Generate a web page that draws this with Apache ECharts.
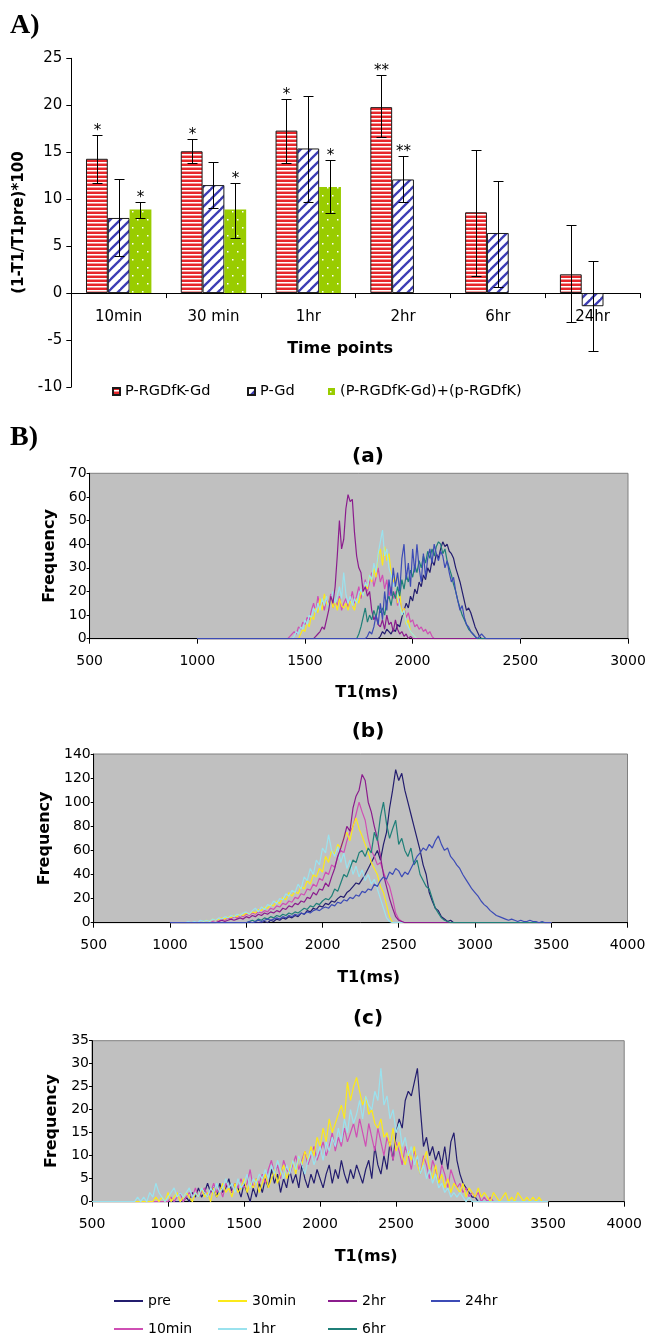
<!DOCTYPE html>
<html><head><meta charset="utf-8">
<script src="https://cdn.jsdelivr.net/npm/echarts@6/dist/echarts.min.js"></script>
<style>html,body{margin:0;padding:0;background:#fff}#c{width:647px;height:1339px}</style>
</head><body><div id="c"></div><script>
// ---------- Panel A data ----------
const cats = ['10min', '30 min', '1hr', '2hr', '6hr', '24hr'];
const yTicksA = [-10, 25, 5];
const redVals = [14.3, 15.1, 17.3, 19.8, 8.6, 2.0];
const redLow = [11.7, 13.9, 13.9, 16.6, 1.8, -3.1];
const redHigh = [16.8, 16.4, 20.7, 23.2, 15.2, 7.3];
const blueVals = [8.0, 11.5, 15.4, 12.1, 6.4, -1.4];
const blueLow = [3.9, 9.1, 9.7, 9.7, 0.6, -6.2];
const blueHigh = [12.1, 14.0, 21.0, 14.6, 11.9, 3.4];
const greenVals = [8.9, 8.9, 11.3, null, null, null];
const greenLow = [8.0, 5.9, 8.5, null, null, null];
const greenHigh = [9.7, 11.7, 14.2, null, null, null];
const redStars = ['*', '*', '*', '**', '', ''];
const blueStars = ['', '', '', '**', '', ''];
const greenStars = ['*', '*', '*', '', '', ''];
const barNames = ['P-RGDfK-Gd', 'P-Gd', '(P-RGDfK-Gd)+(p-RGDfK)'];

// ---------- Panel B data (T1 histograms) ----------
const lineNames = ['pre', '10min', '30min', '1hr', '2hr', '6hr', '24hr'];
// panel (a): bin 10 ms, lines span 1000-2500
const binA = 10, rangeA = [1000, 2500];
const preA_start = 1840;
const preA = [0,1,3,2,4,3,2,4,3,6,5,9,12,15,13,18,16,21,19,24,22,27,25,30,28,33,31,36,34,38,41,39,40,37,36,34,30,27,24,20,16,12,13,11,8,5,3,1,0];
const m10A_start = 1420;
const m10A = [0,1,2,3,2,5,4,7,6,9,8,12,15,11,18,14,16,12,17,15,19,13,16,14,18,12,15,17,13,16,20,15,18,22,17,21,25,20,24,28,22,26,30,24,27,21,25,18,22,17,20,14,17,11,13,9,11,7,8,5,6,4,5,3,4,2,3,1,0];
const m30A_start = 1470;
const m30A = [0,2,4,3,7,5,10,8,13,11,17,12,19,15,14,18,13,16,12,17,14,13,15,12,16,14,12,17,15,20,18,23,21,27,24,30,26,35,38,31,39,33,36,28,24,26,15,20,10,13,6,8,3,2,1,0];
const h1A_start = 1440;
const h1A = [0,1,3,2,5,4,8,6,10,9,13,11,15,12,17,14,18,13,16,20,15,18,22,17,28,19,15,18,14,17,15,19,21,18,24,22,27,25,32,28,36,41,46,35,38,30,27,22,24,18,14,10,12,7,5,3,2,1,0];
const h2A_start = 1540;
const h2A = [0,1,2,3,5,4,8,12,18,15,22,35,50,38,42,55,61,58,59,45,35,30,28,20,22,18,20,12,8,10,6,5,8,4,10,6,7,3,8,4,2,3,1,2,0,1,0];
const h6A_start = 1740;
const h6A = [0,2,5,9,13,7,10,8,12,9,14,11,13,10,16,18,14,20,17,22,18,25,21,27,24,29,26,31,28,33,30,35,32,37,34,38,35,39,41,40,36,38,33,30,27,23,20,16,13,10,8,6,4,3,2,1,0];
const h24A_start = 1780;
const h24A = [0,1,3,2,5,10,6,15,8,20,12,25,18,30,22,28,20,34,40,25,32,22,38,28,40,30,24,36,26,34,38,32,40,36,33,37,35,30,33,28,24,26,20,16,12,14,9,6,5,3,2,1,0,1,2,1,0];

// panel (b): bin 20 ms, lines span 1000-3500
const binB = 20, rangeB = [1000, 3500];
const preB_start = 1600;
const preB = [0,1,0,2,1,3,2,4,3,5,4,6,5,8,7,10,9,12,11,14,13,16,15,18,17,20,22,21,25,27,30,33,32,36,40,45,50,55,60,52,65,75,95,110,127,118,124,110,100,90,80,70,60,48,40,25,18,12,10,5,3,1,2,0];
const m10B_start = 1260;
const m10B = [0,1,2,1,3,2,4,3,5,4,6,5,7,6,8,7,9,8,10,9,12,11,14,13,16,15,18,17,21,20,24,23,28,27,32,30,37,35,42,40,48,46,55,60,58,68,75,80,90,100,92,85,70,60,55,48,50,42,35,30,20,8,3,1,0];
const m30B_start = 1200;
const m30B = [0,1,2,1,3,2,3,4,3,5,4,6,5,7,6,8,7,9,8,11,10,13,12,15,14,18,16,21,19,25,22,26,24,30,28,35,32,40,38,45,42,55,50,60,57,65,62,70,75,68,80,87,78,72,65,58,50,45,40,30,25,15,5,0];
const h1B_start = 1100;
const h1B = [0,1,0,1,0,2,1,2,1,3,2,4,3,5,4,6,5,7,6,8,9,7,10,12,9,13,11,15,14,18,16,20,19,24,22,27,25,32,28,38,35,45,40,52,48,62,58,73,60,55,63,50,58,45,52,40,47,38,44,35,40,32,36,28,20,12,4,1,0];
const h2B_start = 1300;
const h2B = [0,1,2,1,2,3,2,3,4,3,5,4,6,5,7,6,8,7,9,8,10,9,12,11,14,13,16,15,18,17,21,20,25,23,28,27,33,30,38,45,55,62,70,80,76,95,105,110,123,118,100,92,80,70,55,40,30,20,12,5,2,1,0];
const h6B_start = 1500;
const h6B = [0,1,2,1,3,2,4,3,5,4,6,5,7,6,8,7,9,8,10,12,11,14,13,16,15,18,20,19,22,28,26,33,40,38,45,52,50,58,60,55,62,58,75,68,88,100,82,70,78,85,65,70,60,55,62,48,52,40,35,30,28,20,12,8,4,2,1,0];
const h24B_start = 1500;
const h24B = [0,1,0,1,2,1,2,3,2,3,4,3,5,4,6,5,7,6,8,7,9,8,10,11,10,12,13,12,15,14,17,16,19,18,21,20,23,22,26,25,28,27,32,30,35,38,36,42,40,45,43,38,42,40,45,50,55,58,62,60,65,62,68,72,65,60,62,55,52,48,45,40,36,32,28,25,22,18,15,13,10,8,6,5,4,3,2,3,2,1,2,1,1,2,1,1,0,1,0];

// panel (c): bin 20 ms, lines span 500-3500
const binC = 20, rangeC = [500, 3500];
const preC_start = 1100;
const preC = [0,1,0,2,1,3,1,2,4,2,3,1,4,2,3,5,2,4,3,1,4,2,0,3,1,4,2,5,3,7,4,6,2,5,3,7,4,6,3,8,5,3,6,4,7,5,3,6,8,4,7,5,9,6,4,7,5,8,6,4,7,9,5,12,8,6,10,7,13,9,15,18,16,22,24,23,26,29,20,12,14,10,12,9,11,8,12,7,13,15,9,6,4,3,2,1,1,0];
const m10C_start = 1000;
const m10C = [0,1,0,1,2,0,1,2,1,3,1,2,3,1,2,4,2,3,1,4,3,2,4,3,5,3,4,7,3,5,4,6,4,7,9,6,8,5,9,7,6,8,10,7,9,11,8,10,12,9,11,13,10,12,15,11,14,12,16,13,15,17,14,18,15,12,17,14,11,16,13,10,14,12,9,13,11,8,12,10,7,11,9,6,10,8,5,9,7,4,8,6,3,7,5,3,4,2,3,1,2,1,2,0,1,0,1,0,0];
const m30C_start = 900;
const m30C = [0,1,0,1,0,2,0,1,2,0,1,2,1,0,2,1,3,1,2,0,3,1,2,4,2,3,1,4,2,3,5,2,4,3,5,2,4,6,3,5,7,4,6,8,5,7,9,6,10,8,11,9,12,10,14,12,16,13,18,15,17,19,21,18,26,22,25,27,24,21,23,19,20,17,16,18,14,15,12,16,11,13,10,8,11,9,12,8,6,9,11,7,5,8,4,6,3,5,2,4,3,2,4,1,3,2,1,3,1,2,1,0,2,1,0,1,2,0,1,0,2,1,0,1,0,1,0,1,0,0];
const h1C_start = 780;
const h1C = [0,1,0,1,0,2,1,4,2,1,0,1,2,3,1,2,1,2,3,1,2,1,3,2,1,3,2,4,2,3,5,3,4,2,5,3,4,6,3,5,4,6,5,7,5,8,6,9,7,5,8,6,9,7,10,8,6,9,11,8,10,12,9,13,11,14,12,16,13,18,15,20,17,19,22,18,23,21,20,24,22,29,21,23,18,20,15,17,12,14,10,12,8,10,6,8,5,7,4,6,3,4,2,3,1,2,1,2,1,0,1,0];

const lineColors = ['#231d6e', '#cf4fb4', '#fbe91a', '#9ae2ee', '#8b1c8d', '#1f7f78', '#3c4bb6'];

// ---------- styles ----------
function pat(w, h, draw) {
  const c = document.createElement('canvas');
  c.width = w; c.height = h;
  draw(c.getContext('2d'));
  return { image: c, repeat: 'repeat' };
}
const redPat = pat(4, 4, g => {
  g.fillStyle = '#e8262b'; g.fillRect(0, 0, 4, 4);
  g.fillStyle = '#ffffff'; g.fillRect(0, 2, 4, 1);
  g.fillStyle = '#f49a9a'; g.fillRect(0, 3, 4, 1);
});
const bluePat = pat(10, 10, g => {
  g.fillStyle = '#ffffff'; g.fillRect(0, 0, 10, 10);
  g.strokeStyle = '#3c3cb4'; g.lineWidth = 2.3;
  [0, 10, 20].forEach(k => { g.beginPath(); g.moveTo(k + 2, -2); g.lineTo(-2, k + 2); g.stroke(); });
});
const greenPat = pat(10, 16, g => {
  g.fillStyle = '#99cc00'; g.fillRect(0, 0, 10, 16);
  g.fillStyle = '#ffffff'; g.fillRect(2, 3, 1.5, 1.5); g.fillRect(7, 11, 1.5, 1.5);
});

const FONT = 'DejaVu Sans';
const txt = { color: '#000', fontFamily: FONT };
const plain = v => String(v);

// ---------- error bars ----------
const errRows = [], errStars = [];
[[redVals, redLow, redHigh, redStars], [blueVals, blueLow, blueHigh, blueStars], [greenVals, greenLow, greenHigh, greenStars]].forEach((arr, s) => {
  arr[0].forEach((v, i) => {
    if (v === null) return;
    errRows.push([i, arr[1][i], arr[2][i], s]);
    errStars.push(arr[3][i]);
  });
});
function renderErr(params, api) {
  const i = api.value(0), s = api.value(3);
  const c0 = api.coord([i, 0]);
  const band = api.size([1, 0])[0];
  const bw = band * 0.69 / 3;
  const x = Math.round(c0[0] + (s - 1) * bw) + 0.5;
  const yl = Math.round(api.coord([i, api.value(1)])[1]) + 0.5;
  const yh = Math.round(api.coord([i, api.value(2)])[1]) + 0.5;
  const hw = 5;
  const st = { stroke: '#000', lineWidth: 1 };
  const ch = [
    { type: 'line', shape: { x1: x, y1: yl, x2: x, y2: yh }, style: st },
    { type: 'line', shape: { x1: x - hw, y1: yh, x2: x + hw, y2: yh }, style: st },
    { type: 'line', shape: { x1: x - hw, y1: yl, x2: x + hw, y2: yl }, style: st }
  ];
  const star = errStars[params.dataIndex];
  if (star) ch.push({ type: 'text', style: { text: star, x: x, y: yh - 12, align: 'center', verticalAlign: 'top', fill: '#000', font: '15px "DejaVu Sans"' } });
  return { type: 'group', children: ch };
}

// ---------- histogram builder ----------
function hist(start, step, vals, range) {
  const pts = [[range[0], 0]];
  vals.forEach((v, i) => pts.push([start + i * step, v]));
  pts.push([range[1], 0]);
  return pts;
}
const panels = [
  { bin: binA, range: rangeA, s: [[preA_start, preA], [m10A_start, m10A], [m30A_start, m30A], [h1A_start, h1A], [h2A_start, h2A], [h6A_start, h6A], [h24A_start, h24A]] },
  { bin: binB, range: rangeB, s: [[preB_start, preB], [m10B_start, m10B], [m30B_start, m30B], [h1B_start, h1B], [h2B_start, h2B], [h6B_start, h6B], [h24B_start, h24B]] },
  { bin: binC, range: rangeC, s: [[preC_start, preC], [m10C_start, m10C], [m30C_start, m30C], [h1C_start, h1C]] }
];
const histAxes = [
  { xmax: 3000, ymax: 70, yint: 10 },
  { xmax: 4000, ymax: 140, yint: 20 },
  { xmax: 4000, ymax: 35, yint: 5 }
];

const gridA = { left: 71.3, top: 58.3, width: 568.7, height: 328.7, outerBoundsMode: 'none' };
const grids = [
  gridA,
  { left: 89.6, top: 473.3, width: 538.4, height: 165.4, show: true, backgroundColor: '#c0c0c0', borderColor: '#808080', borderWidth: 1, outerBoundsMode: 'none' },
  { left: 93.7, top: 754, width: 533.8, height: 168.7, show: true, backgroundColor: '#c0c0c0', borderColor: '#808080', borderWidth: 1, outerBoundsMode: 'none' },
  { left: 92, top: 1040.7, width: 532.2, height: 161, show: true, backgroundColor: '#c0c0c0', borderColor: '#808080', borderWidth: 1, outerBoundsMode: 'none' }
];
const axLine = { show: true, lineStyle: { color: '#000', width: 1 } };
// x axis of panel A sits at value 0: offset from grid bottom
const zeroOffsetA = -gridA.height * (0 - yTicksA[0]) / (yTicksA[1] - yTicksA[0]);

const xAxes = [{
  type: 'category', data: cats, gridIndex: 0, offset: zeroOffsetA,
  axisLine: { ...axLine, onZero: false },
  axisTick: { show: true, length: 5, interval: 0, lineStyle: { color: '#000' } },
  axisLabel: { ...txt, fontSize: 15, margin: 17, interval: 0 },
  name: 'Time points', nameLocation: 'middle', nameGap: 48,
  nameTextStyle: { ...txt, fontSize: 16, fontWeight: 'bold', padding: [0, 31, 0, 0] }
}];
const yAxes = [{
  type: 'value', gridIndex: 0, min: yTicksA[0], max: yTicksA[1], interval: yTicksA[2],
  axisLine: axLine, axisTick: { show: true, length: 5, lineStyle: { color: '#000' } },
  axisLabel: { ...txt, fontSize: 15, margin: 9, formatter: plain }, splitLine: { show: false },
  name: '(1-T1/T1pre)*100', nameLocation: 'middle', nameGap: 42,
  nameTextStyle: { ...txt, fontSize: 15, fontWeight: 'bold' }
}];
const xGaps = [46, 47, 47];
histAxes.forEach((h, k) => {
  xAxes.push({
    type: 'value', gridIndex: k + 1, min: 500, max: h.xmax, interval: 500,
    axisLine: { ...axLine, onZero: false }, axisTick: { show: true, length: 5, lineStyle: { color: '#000' } },
    axisLabel: { ...txt, fontSize: 14, margin: 16, formatter: plain }, splitLine: { show: false },
    name: 'T1(ms)', nameLocation: 'middle', nameGap: xGaps[k],
    nameTextStyle: { ...txt, fontSize: 16, fontWeight: 'bold', padding: [0, 0, 0, 16] }
  });
  yAxes.push({
    type: 'value', gridIndex: k + 1, min: 0, max: h.ymax, interval: h.yint,
    axisLine: axLine, axisTick: { show: true, length: 3, lineStyle: { color: '#000' } },
    axisLabel: { ...txt, fontSize: 14, margin: 3, formatter: plain }, splitLine: { show: false },
    name: 'Frequency', nameLocation: 'middle', nameGap: 29,
    nameTextStyle: { ...txt, fontSize: 16, fontWeight: 'bold' }
  });
});

const series = [
  { type: 'bar', name: barNames[0], xAxisIndex: 0, yAxisIndex: 0, data: redVals, barGap: '0%', barCategoryGap: '31%', itemStyle: { color: redPat, borderColor: '#1a1a1a', borderWidth: 1 } },
  { type: 'bar', name: barNames[1], xAxisIndex: 0, yAxisIndex: 0, data: blueVals, barGap: '0%', barCategoryGap: '31%', itemStyle: { color: bluePat, borderColor: '#1a1a1a', borderWidth: 1 } },
  { type: 'bar', name: barNames[2], xAxisIndex: 0, yAxisIndex: 0, data: greenVals, barGap: '0%', barCategoryGap: '31%', itemStyle: { color: greenPat } },
  { type: 'custom', name: 'err', xAxisIndex: 0, yAxisIndex: 0, data: errRows, renderItem: renderErr, encode: { x: 0, y: [1, 2] }, z: 5 }
];
panels.forEach((p, k) => {
  p.s.forEach((sd, j) => {
    series.push({
      type: 'line', name: lineNames[j], xAxisIndex: k + 1, yAxisIndex: k + 1,
      data: hist(sd[0], p.bin, sd[1], p.range), symbol: 'none', showSymbol: false,
      lineStyle: { color: lineColors[j], width: 1.2 }, itemStyle: { color: lineColors[j] }
    });
  });
});

// legends
const legends = [];
const barLegPos = [112, 247, 328];
barNames.forEach((n, i) => legends.push({
  data: [n], left: barLegPos[i], top: 384, padding: 0, itemWidth: 7, itemHeight: 7, icon: 'rect',
  selectedMode: false, textStyle: { ...txt, fontSize: 14.5 }
}));
const lineLegPos = { pre: [114, 1294], '30min': [218, 1294], '2hr': [328, 1294], '24hr': [431, 1294], '10min': [114, 1322], '1hr': [218, 1322], '6hr': [328, 1322] };
lineNames.forEach((n, j) => legends.push({
  data: [{ name: n, icon: 'rect', itemStyle: { color: lineColors[j], borderWidth: 0 } }],
  left: lineLegPos[n][0], top: lineLegPos[n][1], padding: 0, itemWidth: 29, itemHeight: 2,
  selectedMode: false, textStyle: { ...txt, fontSize: 14 }
}));

const titles = [
  { text: 'A)', left: 10, top: 12, padding: 0, textStyle: { fontFamily: 'Liberation Serif', fontWeight: 'bold', fontSize: 28, color: '#000' } },
  { text: 'B)', left: 10, top: 424, padding: 0, textStyle: { fontFamily: 'Liberation Serif', fontWeight: 'bold', fontSize: 28, color: '#000' } },
  { text: '(a)', left: 368, textAlign: 'center', top: 447, padding: 0, textStyle: { ...txt, fontWeight: 'bold', fontSize: 20 } },
  { text: '(b)', left: 368, textAlign: 'center', top: 722, padding: 0, textStyle: { ...txt, fontWeight: 'bold', fontSize: 20 } },
  { text: '(c)', left: 368, textAlign: 'center', top: 1009, padding: 0, textStyle: { ...txt, fontWeight: 'bold', fontSize: 20 } }
];

const chart = echarts.init(document.getElementById('c'), null, { renderer: 'canvas' });
chart.setOption({
  animation: false,
  backgroundColor: '#fff',
  title: titles,
  legend: legends,
  grid: grids,
  xAxis: xAxes,
  yAxis: yAxes,
  series: series
});
</script></body></html>
